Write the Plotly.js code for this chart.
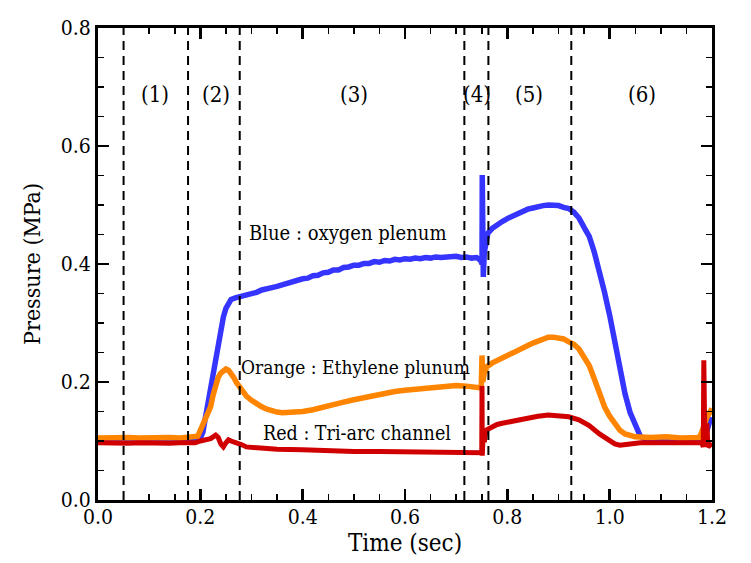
<!DOCTYPE html>
<html>
<head>
<meta charset="utf-8">
<script src="https://cdn.plot.ly/plotly-3.0.1.min.js"></script>
<style>html,body{margin:0;padding:0;background:#fff}#chart{width:751px;height:563px}</style>
</head>
<body>
<div id="chart"></div>
<script>
// ---- data ----
const blueT = [0,0.1,0.195,0.2,0.205,0.21,0.215,0.22,0.225,0.23,0.235,0.24,0.245,0.25,0.255,0.26,0.27,
  0.28,0.29,0.30,0.31,0.32,0.33,0.34,0.35,0.36,0.37,0.38,0.39,0.40,0.41,0.42,0.43,0.44,0.45,0.46,0.47,0.48,0.49,
  0.50,0.51,0.52,0.53,0.54,0.55,0.56,0.57,0.58,0.59,0.60,0.61,0.62,0.63,0.64,0.65,0.66,0.67,0.68,0.69,
  0.70,0.71,0.72,0.73,0.74,0.748,0.7505,0.751,0.752,0.753,0.755,0.758,0.762,
  0.77,0.78,0.79,0.80,0.81,0.82,0.83,0.84,0.85,0.86,0.87,0.88,0.89,0.90,0.91,0.92,0.93,0.94,0.95,
  0.96,0.97,0.98,0.99,1.00,1.01,1.02,1.03,1.04,1.05,1.06,1.07,1.10,1.15,1.185,1.19,1.195,1.2];
const blueP = [0.1,0.1,0.1,0.105,0.115,0.14,0.165,0.186,0.215,0.24,0.265,0.29,0.31,0.325,0.333,0.34,0.343,
  0.345,0.347,0.351,0.352,0.356,0.357,0.360,0.362,0.365,0.366,0.370,0.372,0.375,0.376,0.380,0.381,0.385,0.386,0.390,0.390,0.394,0.395,
  0.398,0.398,0.401,0.401,0.404,0.403,0.406,0.405,0.408,0.407,0.409,0.408,0.410,0.409,0.411,0.410,0.412,0.411,0.412,0.411,
  0.413,0.411,0.412,0.410,0.411,0.406,0.40,0.551,0.40,0.378,0.42,0.44,0.452,
  0.460,0.467,0.472,0.477,0.481,0.486,0.489,0.493,0.495,0.498,0.499,0.500,0.500,0.499,0.496,0.494,0.488,0.478,0.462,
  0.447,0.42,0.39,0.352,0.313,0.265,0.222,0.18,0.148,0.125,0.108,0.103,0.102,0.102,0.102,0.12,0.132,0.14];

const orangeT = [0,0.02,0.04,0.06,0.08,0.10,0.12,0.14,0.16,0.18,0.19,0.195,0.2,0.205,0.21,0.215,0.22,0.225,0.23,0.235,0.24,0.245,
  0.25,0.255,0.26,0.265,0.27,0.275,0.28,0.29,0.30,0.31,0.32,0.33,0.34,0.35,0.36,0.37,0.38,0.39,0.40,0.42,0.44,0.46,0.48,
  0.50,0.52,0.54,0.56,0.58,0.60,0.62,0.64,0.66,0.68,0.70,0.72,0.74,0.749,0.7505,0.752,0.755,0.76,
  0.77,0.78,0.79,0.80,0.81,0.82,0.83,0.84,0.85,0.86,0.87,0.88,0.89,0.90,0.91,0.92,0.93,0.94,0.95,
  0.96,0.97,0.98,0.99,1.00,1.01,1.02,1.03,1.04,1.05,1.08,1.11,1.14,1.175,1.18,1.19,1.2];
const orangeP = [0.105,0.106,0.105,0.106,0.105,0.106,0.105,0.106,0.105,0.106,0.106,0.108,0.118,0.127,0.138,0.148,0.158,0.178,0.198,0.208,0.215,0.22,
  0.222,0.22,0.215,0.208,0.2,0.193,0.186,0.176,0.169,0.163,0.158,0.154,0.151,0.149,0.148,0.148,0.148,0.149,0.15,0.153,0.158,0.162,0.166,
  0.17,0.174,0.178,0.181,0.184,0.186,0.188,0.19,0.191,0.192,0.194,0.193,0.191,0.19,0.245,0.2,0.215,0.226,
  0.232,0.237,0.241,0.245,0.249,0.254,0.258,0.262,0.266,0.27,0.273,0.276,0.276,0.275,0.273,0.268,0.264,0.256,0.243,
  0.228,0.205,0.178,0.158,0.142,0.128,0.118,0.112,0.11,0.107,0.106,0.107,0.105,0.106,0.115,0.14,0.155];

const redT = [0,0.02,0.04,0.06,0.08,0.10,0.12,0.14,0.16,0.18,0.19,0.2,0.21,0.22,0.23,0.235,0.24,0.245,0.25,0.255,0.26,0.27,0.28,0.29,
  0.30,0.35,0.40,0.45,0.50,0.55,0.60,0.65,0.70,0.745,0.75,0.7505,0.751,0.753,0.755,0.758,0.762,
  0.77,0.78,0.79,0.80,0.82,0.84,0.86,0.88,0.90,0.92,0.94,0.96,0.98,1.00,1.01,1.02,1.03,1.04,1.06,1.10,1.15,1.18,
  1.183,1.184,1.186,1.19,1.192,1.2];
const redP = [0.097,0.096,0.097,0.096,0.097,0.096,0.097,0.096,0.097,0.096,0.097,0.1,0.102,0.104,0.11,0.106,0.095,0.09,0.097,0.102,0.1,0.098,0.094,0.09,
  0.089,0.086,0.085,0.083,0.082,0.082,0.081,0.08,0.079,0.079,0.08,0.193,0.075,0.115,0.098,0.118,0.12,
  0.124,0.128,0.13,0.132,0.136,0.14,0.142,0.144,0.143,0.141,0.136,0.126,0.112,0.099,0.095,0.093,0.093,0.095,0.097,0.097,0.097,0.097,
  0.09,0.237,0.095,0.13,0.09,0.096];

const phaseBounds = [0.05, 0.176, 0.277, 0.716, 0.763, 0.925];
const phaseLabels = ["(1)","(2)","(3)","(4)","(5)","(6)"];
const phaseLabelX = [0.112, 0.23, 0.5, 0.74, 0.843, 1.064];
const phaseLabelY = 0.687;

const seriesLabels = ["Blue : oxygen plenum", "Orange : Ethylene plunum", "Red : Tri-arc channel"];
const seriesLabelX = [0.488, 0.503, 0.507];
const seriesLabelY = [0.453, 0.225, 0.113];
const seriesLabelSize = [20, 19, 19.5];

const xTickVals = [0, 0.2, 0.4, 0.6, 0.8, 1.0, 1.2];
const xTickText = ["0.0","0.2","0.4","0.6","0.8","1.0","1.2"];
const yTickVals = [0, 0.2, 0.4, 0.6, 0.8];
const yTickText = ["0.0","0.2","0.4","0.6","0.8"];

// ---- chart ----
const FONT = 'DejaVu Serif Condensed, DejaVu Serif';
const traces = [
  {x: blueT, y: blueP, type: 'scatter', mode: 'lines', line: {color: '#3535ff', width: 5.5}, hoverinfo: 'skip'},
  {x: orangeT, y: orangeP, type: 'scatter', mode: 'lines', line: {color: '#ff8400', width: 5.5}, hoverinfo: 'skip'},
  {x: redT, y: redP, type: 'scatter', mode: 'lines', line: {color: '#d10000', width: 5}, hoverinfo: 'skip'}
];

const shapes = phaseBounds.map(b => ({
  type: 'line', xref: 'x', yref: 'paper', x0: b, x1: b, y0: 0, y1: 1,
  line: {color: '#000', width: 2, dash: '9px,6px'}, layer: 'above'
}));

const annotations = phaseLabels.map((t, i) => ({
  x: phaseLabelX[i], y: phaseLabelY, xref: 'x', yref: 'y', text: t, showarrow: false,
  font: {family: FONT, size: 22, color: '#000'}
})).concat(seriesLabels.map((t, i) => ({
  x: seriesLabelX[i], y: seriesLabelY[i], xref: 'x', yref: 'y', text: t, showarrow: false,
  font: {family: FONT, size: seriesLabelSize[i], color: '#000'}
})));

const axisCommon = {
  showgrid: false, zeroline: false, showline: true, linecolor: '#000', linewidth: 3,
  mirror: 'ticks', ticks: 'inside', ticklen: 11, tickwidth: 2.5, tickcolor: '#000',
  tickfont: {family: FONT, size: 21, color: '#000'}, tickmode: 'array'
};

const layout = {
  width: 751, height: 563,
  margin: {l: 98, r: 39, t: 28, b: 63},
  paper_bgcolor: '#fff', plot_bgcolor: '#fff',
  font: {family: FONT},
  showlegend: false,
  xaxis: Object.assign({}, axisCommon, {
    range: [0, 1.2], tickvals: xTickVals, ticktext: xTickText, ticklabelstandoff: -4,
    minor: {tickvals: [0.05,0.1,0.15,0.25,0.3,0.35,0.45,0.5,0.55,0.65,0.7,0.75,0.85,0.9,0.95,1.05,1.1,1.15], ticks: 'inside', ticklen: 6, tickwidth: 1.5, tickcolor: '#000'},
    title: {text: 'Time (sec)', font: {family: FONT, size: 24, color: '#000'}, standoff: 0}
  }),
  yaxis: Object.assign({}, axisCommon, {
    range: [0, 0.8], tickvals: yTickVals, ticktext: yTickText,
    minor: {tickvals: [0.05,0.1,0.15,0.25,0.3,0.35,0.45,0.5,0.55,0.65,0.7,0.75], ticks: 'inside', ticklen: 6, tickwidth: 1.5, tickcolor: '#000'},
    title: {text: 'Pressure (MPa)', font: {family: FONT, size: 23, color: '#000'}, standoff: 14}
  }),
  shapes: shapes,
  annotations: annotations
};

Plotly.newPlot('chart', traces, layout, {displayModeBar: false, staticPlot: true});
</script>
</body>
</html>
